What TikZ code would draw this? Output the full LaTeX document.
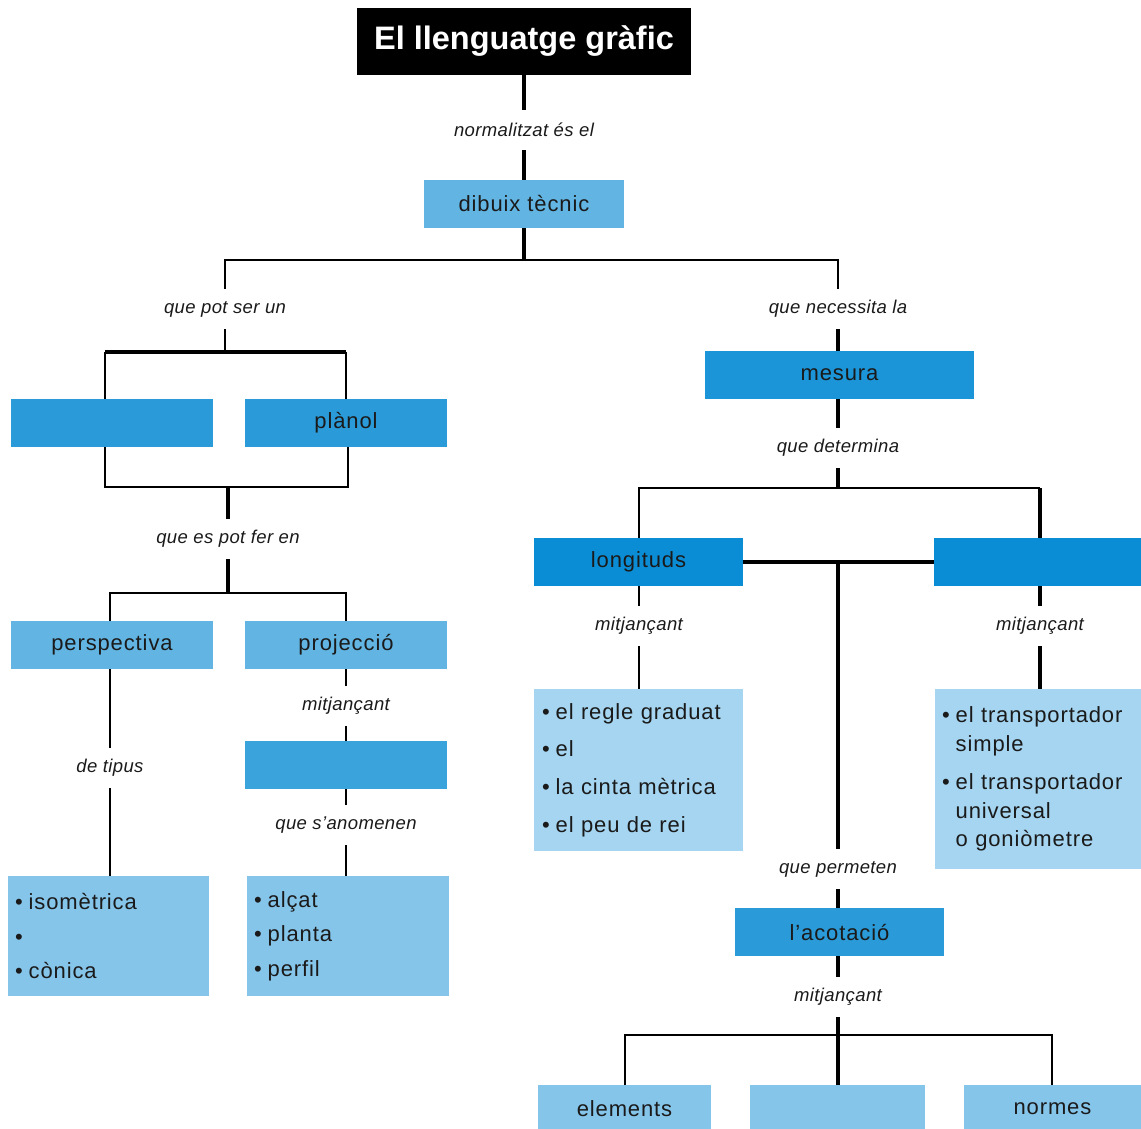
\documentclass[tikz,border=0pt]{standalone}
\usepackage{fontspec}
\setmainfont{Liberation Sans}
\newfontfamily\boxfnt[LetterSpace=4]{Liberation Sans}
\newfontfamily\labfnt[LetterSpace=2]{Liberation Sans}
\definecolor{cdib}{HTML}{62B5E3}
\definecolor{cmid}{HTML}{2A9BD8}
\definecolor{cmes}{HTML}{1B95D7}
\definecolor{clong}{HTML}{0B8DD5}
\definecolor{clist}{HTML}{86C5EA}
\definecolor{clistb}{HTML}{A5D5F0}
\definecolor{cprojb}{HTML}{3AA3DC}
\definecolor{ctxt}{HTML}{1A1A1A}
\tikzset{
  box/.style={rectangle, inner sep=0pt, minimum height=48pt, minimum width=202pt, text=ctxt, font=\boxfnt\fontsize{22}{26}\selectfont},
  listbox/.style={rectangle, inner xsep=7pt, inner ysep=0pt, text=ctxt, align=left},
  lab/.style={inner sep=0pt, minimum height=40pt, text=ctxt, font=\labfnt\itshape\fontsize{18.5}{20}\selectfont},
  thk/.style={line width=3.1pt, draw=black},
  thn/.style={line width=1.9pt, draw=black},
}
\newcommand{\bul}{\textbullet\hspace{6pt}}
\newcommand{\bulind}{\phantom{\textbullet\hspace{6pt}}}
\begin{document}
\begin{tikzpicture}[x=1pt,y=-1pt]
\useasboundingbox (0,0) rectangle (1141,1128);
\clip (0,0) rectangle (1141,1128);
% ---- boxes
\node[box, fill=black, text=white, minimum width=334pt, minimum height=67pt, font=\bfseries\fontsize{32.5}{36}\selectfont] (title) at (524,41.5) {El llenguatge gràfic};
\node[box, fill=cdib, minimum width=200pt] (dib) at (524,204) {dibuix tècnic};
\node[box, fill=cmid] (lbl) at (112,423) {};
\node[box, fill=cmid] (plan) at (346,423) {plànol};
\node[box, fill=cdib] (persp) at (112,645) {perspectiva};
\node[box, fill=cdib] (proj) at (346,645) {projecció};
\node[box, fill=cprojb] (projb) at (346,765) {};
\node[listbox, fill=clist, minimum width=201pt, minimum height=120pt, text width=187pt, font=\boxfnt\fontsize{22}{34.5}\selectfont] (iso) at (108.5,936) {\bul isomètrica\\ \bul\\ \bul cònica};
\node[listbox, fill=clist, minimum width=202pt, minimum height=120pt, text width=188pt, font=\boxfnt\fontsize{22}{34.5}\selectfont] (alc) at (348,936) {\bul alçat\\ \bul planta\\ \bul perfil};
\node[box, fill=cmes, minimum width=269pt] (mes) at (839.5,375) {mesura};
\node[box, fill=clong, minimum width=209pt] (lon) at (638.5,562) {longituds};
\node[box, fill=clong, minimum width=216pt] (angb) at (1042,562) {};
\node[listbox, fill=clistb, minimum width=209pt, minimum height=162pt, text width=193pt, inner xsep=8pt, font=\boxfnt\fontsize{22}{37.7}\selectfont] (llist) at (638.5,770) {\bul el regle graduat\\ \bul el\\ \bul la cinta mètrica\\ \bul el peu de rei};
\node[listbox, fill=clistb, minimum width=215pt, minimum height=180pt, text width=201pt, font=\boxfnt\fontsize{22}{28.5}\selectfont] (alist) at (1042.5,779) {\bul el transportador\\ \bulind simple\\[10pt] \bul el transportador\\ \bulind universal\\ \bulind o goniòmetre};
\node[box, fill=cmid, minimum width=209pt] (acot) at (839.5,932) {l’acotació};
\node[box, fill=clist, minimum width=173pt] (elem) at (624.5,1109) {elements};
\node[box, fill=clist, minimum width=175pt] (bbl) at (837.5,1109) {};
\node[box, fill=clist, minimum width=177pt] (norm) at (1052.5,1109) {normes};
% ---- labels
\node[lab] (l1) at (524,130) {normalitzat és el};
\node[lab] (l2) at (225,309) {que pot ser un};
\node[lab] (l3) at (838,309) {que necessita la};
\node[lab] (l4) at (228,539) {que es pot fer en};
\node[lab] (l5) at (110,768) {de tipus};
\node[lab] (l6) at (346,706) {mitjançant};
\node[lab] (l7) at (346,825) {que s’anomenen};
\node[lab] (l8) at (838,448) {que determina};
\node[lab] (l9) at (838,869) {que permeten};
\node[lab] (l10) at (639,626) {mitjançant};
\node[lab] (l11) at (1040,626) {mitjançant};
\node[lab] (l12) at (838,997) {mitjançant};
% ---- junctions
\coordinate (j1) at (524,260);
\coordinate (j2) at (225,352);
\coordinate (j2l) at (105,352);
\coordinate (j2r) at (346,352);
\coordinate (j3) at (228,487);
\coordinate (j3l) at (105,487);
\coordinate (j3r) at (348,487);
\coordinate (j4) at (228,593);
\coordinate (j4l) at (110,593);
\coordinate (j4r) at (346,593);
\coordinate (j5) at (838,488);
\coordinate (j5l) at (639,488);
\coordinate (j5r) at (1040,488);
\coordinate (j6) at (838,562);
\coordinate (j7) at (838,1035);
\coordinate (j7l) at (625,1035);
\coordinate (j7r) at (1052,1035);
% ---- connectors
\draw[thk] (title) -- (l1) -- (dib);
\draw[thk] (dib) -- (j1);
\draw[thn] (l2) |- (j1) -| (l3);
\draw[thn] (l2) -- (j2);
\draw[thk] (j2l) -- (j2r);
\draw[thn] (j2l) -- (j2l |- lbl.north);
\draw[thn] (j2r) -- (j2r |- plan.north);
\draw[thn] (j3l |- lbl.south) -- (j3l) -- (j3r) -- (j3r |- plan.south);
\draw[thk] (j3) -- (l4) -- (j4);
\draw[thn] (j4l |- persp.north) -- (j4l) -- (j4r) -- (j4r |- proj.north);
\draw[thn] (l5 |- persp.south) -- (l5) -- (l5 |- iso.north);
\draw[thn] (l6 |- proj.south) -- (l6) -- (l6 |- projb.north);
\draw[thn] (l7 |- projb.south) -- (l7) -- (l7 |- alc.north);
\draw[thk] (l3) -- (l3 |- mes.north);
\draw[thk] (l8 |- mes.south) -- (l8) -- (j5);
\draw[thn] (j5l |- lon.north) -- (j5l) -- (j5r);
\draw[thk] (j5r) -- (j5r |- angb.north);
\draw[thk] (lon.east) -- (angb.west);
\draw[thk] (j6) -- (l9) -- (l9 |- acot.north);
\draw[thn] (l10 |- lon.south) -- (l10) -- (l10 |- llist.north);
\draw[thk] (l11 |- angb.south) -- (l11) -- (l11 |- alist.north);
\draw[thk] (l12 |- acot.south) -- (l12) -- (j7);
\draw[thn] (j7l |- elem.north) -- (j7l) -- (j7r) -- (j7r |- norm.north);
\draw[thk] (j7) -- (j7 |- bbl.north);
\end{tikzpicture}
\end{document}
